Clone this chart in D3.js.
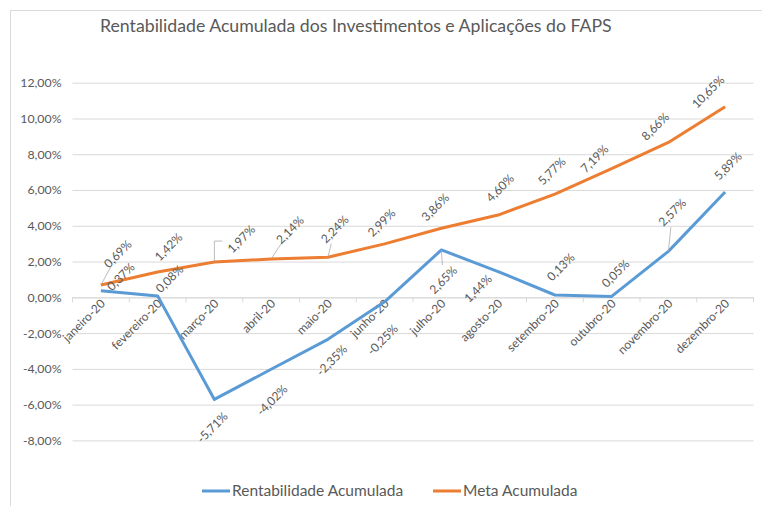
<!DOCTYPE html>
<html>
<head>
<meta charset="utf-8">
<script src="https://cdn.jsdelivr.net/npm/d3@7"></script>
<style>
  body { margin: 0; background: #fff; }
  text { font-family: Lato, "Open Sans", sans-serif; fill: #595959; }
</style>
</head>
<body>
<script>
// data
var MONTHS = ["janeiro-20", "fevereiro-20", "março-20", "abril-20", "maio-20", "junho-20",
    "julho-20", "agosto-20", "setembro-20", "outubro-20", "novembro-20", "dezembro-20"];
var RENTABILIDADE = [0.37, 0.08, -5.71, -4.02, -2.35, -0.25, 2.65, 1.44, 0.13, 0.05, 2.57, 5.89];
var META = [0.69, 1.42, 1.97, 2.14, 2.24, 2.99, 3.86, 4.60, 5.77, 7.19, 8.66, 10.65];
var Y_TICKS = [-8, -6, -4, -2, 0, 2, 4, 6, 8, 10, 12];
var SERIES_NAMES = ["Rentabilidade Acumulada", "Meta Acumulada"];

// label nudges (px from the point) and leader type: 0 none, 1 straight, 2 elbow
var rentNudge = [[20, -14], [12, -17], [-2, 28], [1, 31], [4, 21], [-2, 38],
    [2, 30], [-20, 17], [6, -28], [4, -23], [4, -39], [3, -26]];
var rentLeader = [0, 0, 0, 0, 0, 0, 1, 0, 0, 0, 1, 0];
var metaNudge = [[17, -31], [11, -25], [27, -23], [19, -29], [7, -28], [-3, -21],
    [-6, -21], [2, -27], [-3, -23], [-17, -10], [-13, -16], [-17, -15]];
var metaLeader = [1, 0, 2, 1, 1, 0, 0, 0, 0, 0, 0, 0];

var W = 762, H = 506;
var LEFT = 72.5, RIGHT = 753.5;

var svg = d3.select("body").append("svg");
svg.attr("width", W).attr("height", H);

// chart frame (only top + left visible in the crop)
svg.append("rect").attr("x", 10.5).attr("y", 10.5).attr("width", 800).attr("height", 600)
    .attr("fill", "none").attr("stroke", "#d9d9d9");

// title
svg.append("text").attr("x", 100).attr("y", 32)
    .style("font-size", "17.7px")
    .text("Rentabilidade Acumulada dos Investimentos e Aplicações do FAPS");

// scales
var xScale = d3.scaleBand().domain(MONTHS).range([LEFT, RIGHT]).padding(0);
var yScale = d3.scaleLinear().domain([-8, 12]).range([440.4, 82.7]);
function cx(i) { return xScale(MONTHS[i]) + xScale.bandwidth() / 2; }

function pct(d) { return d.toFixed(2).replace(".", ",") + "%"; }

// gridlines
var grid = svg.append("g").attr("transform", "translate(" + LEFT + ",0)")
    .call(d3.axisLeft(yScale).tickValues(Y_TICKS).tickSize(-(RIGHT - LEFT)).tickFormat(""));
grid.select(".domain").remove();
grid.selectAll("line").attr("stroke", "#d9d9d9");

// y axis labels
var yAxis = svg.append("g").attr("transform", "translate(" + LEFT + ",0)")
    .call(d3.axisLeft(yScale).tickValues(Y_TICKS).tickSize(0).tickPadding(11).tickFormat(pct));
yAxis.select(".domain").remove();
yAxis.selectAll("text").style("font-size", "12.3px").style("font-family", null).attr("fill", null);

// x axis at zero
var xAxis = svg.append("g").attr("transform", "translate(0," + yScale(0) + ")")
    .call(d3.axisBottom(xScale).tickSize(0));
xAxis.select(".domain").attr("stroke", "#d9d9d9");
xAxis.selectAll("text")
    .style("font-size", "12px").style("font-family", null).attr("fill", null)
    .attr("x", 0).attr("y", 0).attr("dy", 0)
    .attr("text-anchor", "end")
    .attr("transform", "translate(5,7) rotate(-45)");
// tick marks at band boundaries
var bounds = MONTHS.map(function (m) { return xScale(m); }).concat([RIGHT]);
xAxis.selectAll(".bound").data(bounds).enter().append("line")
    .attr("x1", function (d) { return d; }).attr("x2", function (d) { return d; })
    .attr("y1", 0).attr("y2", 5).attr("stroke", "#d9d9d9");

// lines
var line = d3.line()
    .x(function (d, i) { return cx(i); })
    .y(function (d) { return yScale(d); });

svg.append("path").datum(RENTABILIDADE).attr("d", line)
    .attr("fill", "none").attr("stroke", "#5b9bd5").attr("stroke-width", 3)
    .attr("stroke-linejoin", "round");
svg.append("path").datum(META).attr("d", line)
    .attr("fill", "none").attr("stroke", "#ed7d31").attr("stroke-width", 3)
    .attr("stroke-linejoin", "round");

// data labels
function drawLabels(values, nudge, leader) {
    var g = svg.append("g");
    values.forEach(function (v, i) {
        var px = cx(i), py = yScale(v);
        var lx = px + nudge[i][0], ly = py + nudge[i][1];
        if (leader[i] === 1) {
            var len = Math.sqrt(nudge[i][0] * nudge[i][0] + nudge[i][1] * nudge[i][1]);
            var k = Math.max(0, 1 - 15 / len);
            g.append("line").attr("x1", px).attr("y1", py)
                .attr("x2", px + nudge[i][0] * k).attr("y2", py + nudge[i][1] * k)
                .attr("stroke", "#a6a6a6").attr("stroke-width", 0.75);
        } else if (leader[i] === 2) {
            g.append("path")
                .attr("d", "M" + px + "," + py + "V" + (ly + 2) + "H" + (px + 8))
                .attr("fill", "none").attr("stroke", "#a6a6a6").attr("stroke-width", 0.75);
        }
        g.append("text")
            .attr("transform", "translate(" + lx + "," + ly + ") rotate(-45)")
            .attr("text-anchor", "middle").attr("dy", "0.35em")
            .style("font-size", "12px")
            .text(pct(v));
    });
}
drawLabels(RENTABILIDADE, rentNudge, rentLeader);
drawLabels(META, metaNudge, metaLeader);

// legend
var legendX = [202, 433];
var colors = ["#5b9bd5", "#ed7d31"];
var legend = svg.append("g").attr("transform", "translate(0,491)");
SERIES_NAMES.forEach(function (name, i) {
    legend.append("line").attr("x1", legendX[i]).attr("x2", legendX[i] + 28)
        .attr("y1", 0).attr("y2", 0).attr("stroke", colors[i]).attr("stroke-width", 3);
    legend.append("text").attr("x", legendX[i] + 30).attr("dy", "0.35em")
        .style("font-size", "15.5px").text(name);
});
</script>
</body>
</html>
